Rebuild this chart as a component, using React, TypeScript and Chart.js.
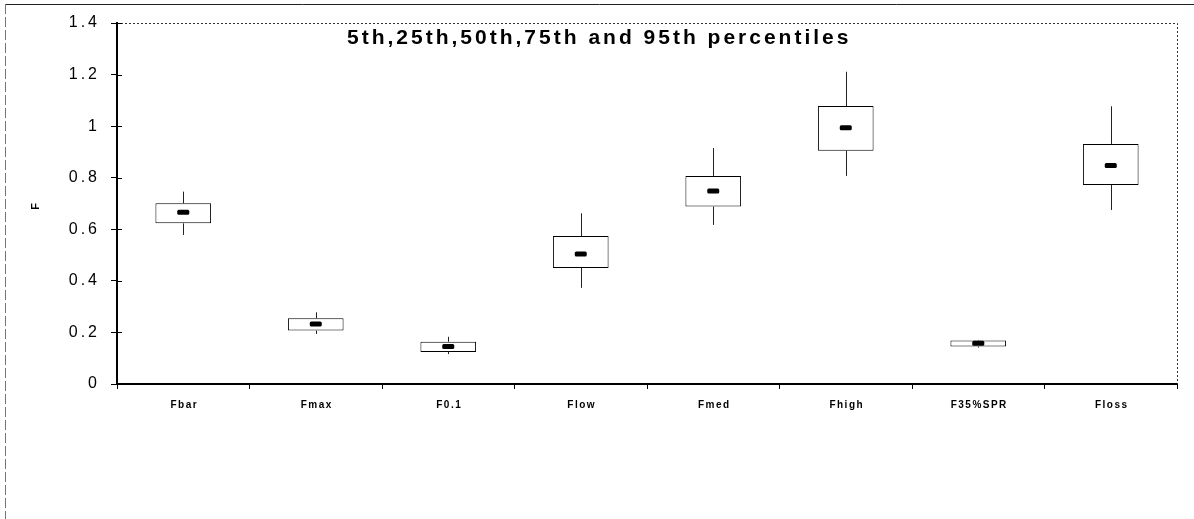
import React, { useEffect, useRef } from "react";
import { Chart, registerables } from "chart.js";

Chart.register(...registerables);

// Percentile summary of F by reference point
const categories = ["Fbar", "Fmax", "F0.1", "Flow", "Fmed", "Fhigh", "F35%SPR", "Floss"];
const p5 = [0.578, 0.194, 0.116, 0.373, 0.617, 0.807, 0.141, 0.675];
const p25 = [0.623, 0.207, 0.124, 0.45, 0.688, 0.905, 0.145, 0.772];
const p50 = [0.666, 0.233, 0.145, 0.504, 0.748, 0.994, 0.158, 0.847];
const p75 = [0.701, 0.255, 0.164, 0.574, 0.807, 1.078, 0.169, 0.931];
const p95 = [0.746, 0.278, 0.183, 0.662, 0.915, 1.211, 0.171, 1.077];
const yTicks = [0, 0.2, 0.4, 0.6, 0.8, 1, 1.2, 1.4];

const titleText = "5th,25th,50th,75th and 95th percentiles";
const yAxisTitle = "F";

const FONT = '"Liberation Sans", Arial, sans-serif';

const boxPlotPlugin = {
  id: "boxPlotExtras",
  beforeDraw(chart: any) {
    // wide letter spacing for the axis tick text
    chart.ctx.letterSpacing = "3px";
  },
  beforeDatasetsDraw(chart: any) {
    const { ctx, scales } = chart;
    ctx.letterSpacing = "0px";
    const xs = scales.x;
    const ys = scales.y;
    ctx.save();
    ctx.strokeStyle = "#222";
    ctx.lineWidth = 1;
    categories.forEach((_, i) => {
      const x = Math.round(xs.getPixelForValue(i)) + 0.5;
      ctx.beginPath();
      ctx.moveTo(x, ys.getPixelForValue(p75[i]));
      ctx.lineTo(x, ys.getPixelForValue(p95[i]));
      ctx.moveTo(x, ys.getPixelForValue(p25[i]));
      ctx.lineTo(x, ys.getPixelForValue(p5[i]));
      ctx.stroke();
    });
    ctx.restore();
  },
  afterDatasetsDraw(chart: any) {
    const { ctx, scales } = chart;
    const xs = scales.x;
    const ys = scales.y;
    ctx.save();
    ctx.fillStyle = "#000";
    categories.forEach((_, i) => {
      const x = xs.getPixelForValue(i);
      const y = ys.getPixelForValue(p50[i]);
      ctx.beginPath();
      ctx.roundRect(x - 6, y - 2.5, 12, 5, 1.5);
      ctx.fill();
    });
    ctx.restore();
  },
  afterDraw(chart: any) {
    const { ctx, chartArea, scales } = chart;
    const { left, right, top, bottom } = chartArea;
    const xs = scales.x;
    const ys = scales.y;
    ctx.save();
    ctx.letterSpacing = "0px";

    // dotted frame on top and right of the plot area
    ctx.strokeStyle = "#333";
    ctx.lineWidth = 1;
    ctx.setLineDash([2, 2]);
    ctx.beginPath();
    ctx.moveTo(left, top + 0.5);
    ctx.lineTo(right + 0.5, top + 0.5);
    ctx.lineTo(right + 0.5, bottom);
    ctx.stroke();
    ctx.setLineDash([]);

    // inner half of y tick marks
    ctx.strokeStyle = "#000";
    yTicks.forEach((v) => {
      const y = Math.round(ys.getPixelForValue(v)) + 0.5;
      ctx.beginPath();
      ctx.moveTo(left, y);
      ctx.lineTo(left + 5, y);
      ctx.stroke();
    });

    // category labels
    ctx.fillStyle = "#000";
    ctx.font = `bold 10px ${FONT}`;
    ctx.letterSpacing = "1.5px";
    ctx.textAlign = "center";
    ctx.textBaseline = "middle";
    categories.forEach((c, i) => {
      ctx.fillText(c, xs.getPixelForValue(i) + 1, bottom + 21);
    });

    // chart title inside the plot area
    ctx.font = `bold 21px ${FONT}`;
    ctx.letterSpacing = "3px";
    ctx.textAlign = "left";
    ctx.textBaseline = "alphabetic";
    ctx.fillText(titleText, left + 230, top + 21);

    // y axis title
    ctx.save();
    ctx.translate(36, (top + bottom) / 2 + 3);
    ctx.rotate(-Math.PI / 2);
    ctx.font = `bold 11px ${FONT}`;
    ctx.letterSpacing = "0px";
    ctx.textAlign = "center";
    ctx.textBaseline = "middle";
    ctx.fillText(yAxisTitle, 0, 0);
    ctx.restore();

    // outer figure frame
    ctx.strokeStyle = "#222";
    ctx.lineWidth = 1;
    ctx.beginPath();
    ctx.moveTo(5, 4.5);
    ctx.lineTo(chart.width, 4.5);
    ctx.stroke();
    ctx.strokeStyle = "#777";
    ctx.setLineDash([10, 3]);
    ctx.beginPath();
    ctx.moveTo(5.5, 4);
    ctx.lineTo(5.5, chart.height);
    ctx.stroke();
    ctx.restore();
  },
};

export default function App() {
  const canvasRef = useRef<HTMLCanvasElement | null>(null);

  useEffect(() => {
    const canvas = canvasRef.current;
    if (!canvas) return;
    const chart = new Chart(canvas, {
      type: "bar",
      data: {
        labels: categories,
        datasets: [
          {
            label: "25th-75th",
            data: categories.map((_, i) => [p25[i], p75[i]]) as any,
            backgroundColor: "#fff",
            borderColor: "#000",
            borderWidth: 1,
            borderSkipped: false,
            categoryPercentage: 1,
            barPercentage: 0.42,
          },
        ],
      },
      options: {
        responsive: false,
        animation: false,
        events: [],
        layout: { padding: { left: 0, top: 23, right: 17, bottom: 0 } },
        plugins: {
          legend: { display: false },
          title: { display: false },
          tooltip: { enabled: false },
        },
        scales: {
          x: {
            type: "category",
            offset: true,
            grid: {
              offset: true,
              drawOnChartArea: false,
              tickLength: 5,
              color: "#000",
            },
            border: { display: true, color: "#000", width: 2 },
            ticks: { display: false },
            afterFit(scale: any) {
              scale.height = 135;
            },
          },
          y: {
            min: 0,
            max: 1.4,
            afterBuildTicks(scale: any) {
              scale.ticks = yTicks.map((v) => ({ value: v }));
            },
            grid: {
              drawOnChartArea: false,
              tickLength: 6,
              color: "#000",
            },
            border: { display: true, color: "#000", width: 2 },
            ticks: {
              color: "#000",
              padding: 11,
              font: { family: FONT, size: 16 },
              callback: (v: any) => String(Number(Number(v).toFixed(1))),
            },
            afterFit(scale: any) {
              scale.width = 117;
            },
          },
        },
      },
      plugins: [boxPlotPlugin],
    });
    return () => chart.destroy();
  }, []);

  return (
    <div style={{ position: "fixed", left: 0, top: 0, width: 1194, height: 519, background: "#fff" }}>
      <canvas ref={canvasRef} width={1194} height={519} />
    </div>
  );
}
